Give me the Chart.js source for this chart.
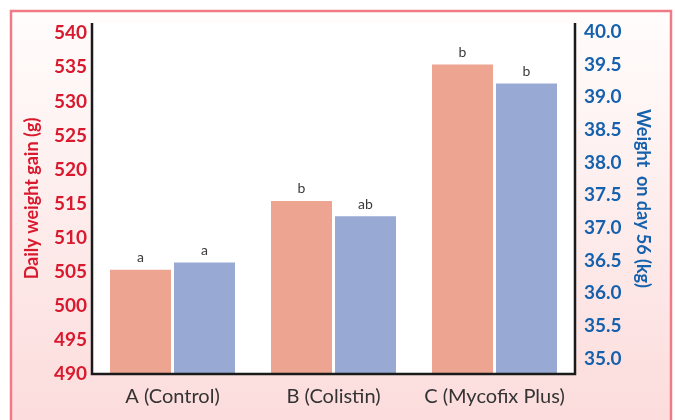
<!DOCTYPE html>
<html>
<head>
<meta charset="utf-8">
<script src="https://cdn.jsdelivr.net/npm/chart.js@4"></script>
<style>
  html, body { margin: 0; padding: 0; background: #fff; }
  #wrap { width: 675px; height: 420px; }
</style>
</head>
<body>
<div id="wrap"><canvas id="chart" width="675" height="420"></canvas></div>
<script>
/* ─── Data ─────────────────────────────────────────────────────────────── */
const groups      = ['A (Control)', 'B (Colistin)', 'C (Mycofix Plus)'];
const dailyGain   = [505.3, 515.4, 535.4];   // g
const weightDay56 = [36.47, 37.18, 39.21];   // kg
const gainLetters   = ['a', 'b', 'b'];
const weightLetters = ['a', 'ab', 'b'];
const gainTicks   = [490, 495, 500, 505, 510, 515, 520, 525, 530, 535, 540];
const weightTicks = [35.0, 35.5, 36.0, 36.5, 37.0, 37.5, 38.0, 38.5, 39.0, 39.5, 40.0];

const RED  = '#d9192e';
const BLUE = '#1561ad';
const FONT = 'Lato, "Open Sans", sans-serif';

/* ── background, frame and axis lines ── */
const frame = {
  id: 'frame',
  beforeDraw(chart) {
    const { ctx, chartArea: a, width, height } = chart;
    ctx.save();
    const g = ctx.createLinearGradient(0, 10, 0, height);
    g.addColorStop(0, '#fffdfc');
    g.addColorStop(1, '#fcdcdc');
    ctx.fillStyle = g;
    ctx.fillRect(10, 10, width - 14, height - 10);
    ctx.strokeStyle = '#f07b87';
    ctx.lineWidth = 2.5;
    ctx.beginPath();
    ctx.moveTo(11, height + 2);
    ctx.lineTo(11, 11);
    ctx.lineTo(width - 4, 11);
    ctx.lineTo(width - 4, height + 2);
    ctx.stroke();
    ctx.fillStyle = '#ffffff';
    ctx.fillRect(a.left, a.top, a.right - a.left, a.bottom - a.top);
    ctx.restore();
  },
  afterDatasetsDraw(chart) {
    const { ctx, chartArea: a } = chart;
    ctx.save();
    ctx.strokeStyle = '#1a1a1a';
    ctx.lineWidth = 2.5;
    ctx.beginPath();
    ctx.moveTo(a.left, a.top);
    ctx.lineTo(a.left, a.bottom);
    ctx.lineTo(a.right, a.bottom);
    ctx.lineTo(a.right, a.top);
    ctx.stroke();

    // significance letters
    ctx.fillStyle = '#3a3a3a';
    ctx.font = '14px ' + FONT;
    ctx.textAlign = 'center';
    ctx.textBaseline = 'bottom';
    [gainLetters, weightLetters].forEach((letters, di) => {
      chart.getDatasetMeta(di).data.forEach((bar, i) => {
        ctx.fillText(letters[i], bar.x, bar.y - 5);
      });
    });
    ctx.restore();
  }
};

new Chart(document.getElementById('chart'), {
  type: 'bar',
  data: {
    labels: groups,
    datasets: [
      {
        label: 'Daily weight gain (g)',
        data: dailyGain,
        yAxisID: 'yGain',
        backgroundColor: '#eda491',
        borderWidth: 0
      },
      {
        label: 'Weight on day 56 (kg)',
        data: weightDay56,
        yAxisID: 'yWeight',
        backgroundColor: '#98a9d3',
        borderWidth: 0
      }
    ]
  },
  options: {
    responsive: false,
    animation: false,
    devicePixelRatio: 1,
    categoryPercentage: 0.795,
    barPercentage: 0.953,
    layout: { padding: { top: 23, left: 0, right: 0, bottom: 0 } },
    plugins: {
      legend: { display: false },
      tooltip: { enabled: false }
    },
    scales: {
      x: {
        grid: { display: false, drawTicks: false },
        border: { display: false },
        ticks: {
          color: '#333333',
          font: { family: FONT, size: 20 },
          padding: 11
        },
        afterFit: s => { s.height = 46; }
      },
      yGain: {
        position: 'left',
        min: 490,
        max: 541.5,
        grid: { display: false, drawTicks: false },
        border: { display: false },
        afterBuildTicks: s => { s.ticks = gainTicks.map(v => ({ value: v })); },
        ticks: {
          color: RED,
          font: { family: FONT, size: 19, weight: 'bold' },
          padding: 5
        },
        title: {
          display: true,
          text: 'Daily weight gain (g)',
          color: RED,
          font: { family: FONT, size: 18, weight: 'bold' },
          padding: { top: 21, bottom: 0 }
        },
        afterFit: s => { s.width = 92; }
      },
      yWeight: {
        position: 'right',
        min: 34.764,
        max: 40.137,
        grid: { display: false, drawTicks: false },
        border: { display: false },
        afterBuildTicks: s => { s.ticks = weightTicks.map(v => ({ value: v })); },
        ticks: {
          color: BLUE,
          font: { family: FONT, size: 19, weight: 'bold' },
          padding: 9,
          callback: v => Number(v).toFixed(1)
        },
        title: {
          display: true,
          text: 'Weight  on day 56 (kg)',
          color: BLUE,
          font: { family: FONT, size: 18, weight: 'bold' },
          padding: { top: 21, bottom: 0 }
        },
        afterFit: s => { s.width = 100; }
      }
    }
  },
  plugins: [frame]
});
</script>
</body>
</html>
